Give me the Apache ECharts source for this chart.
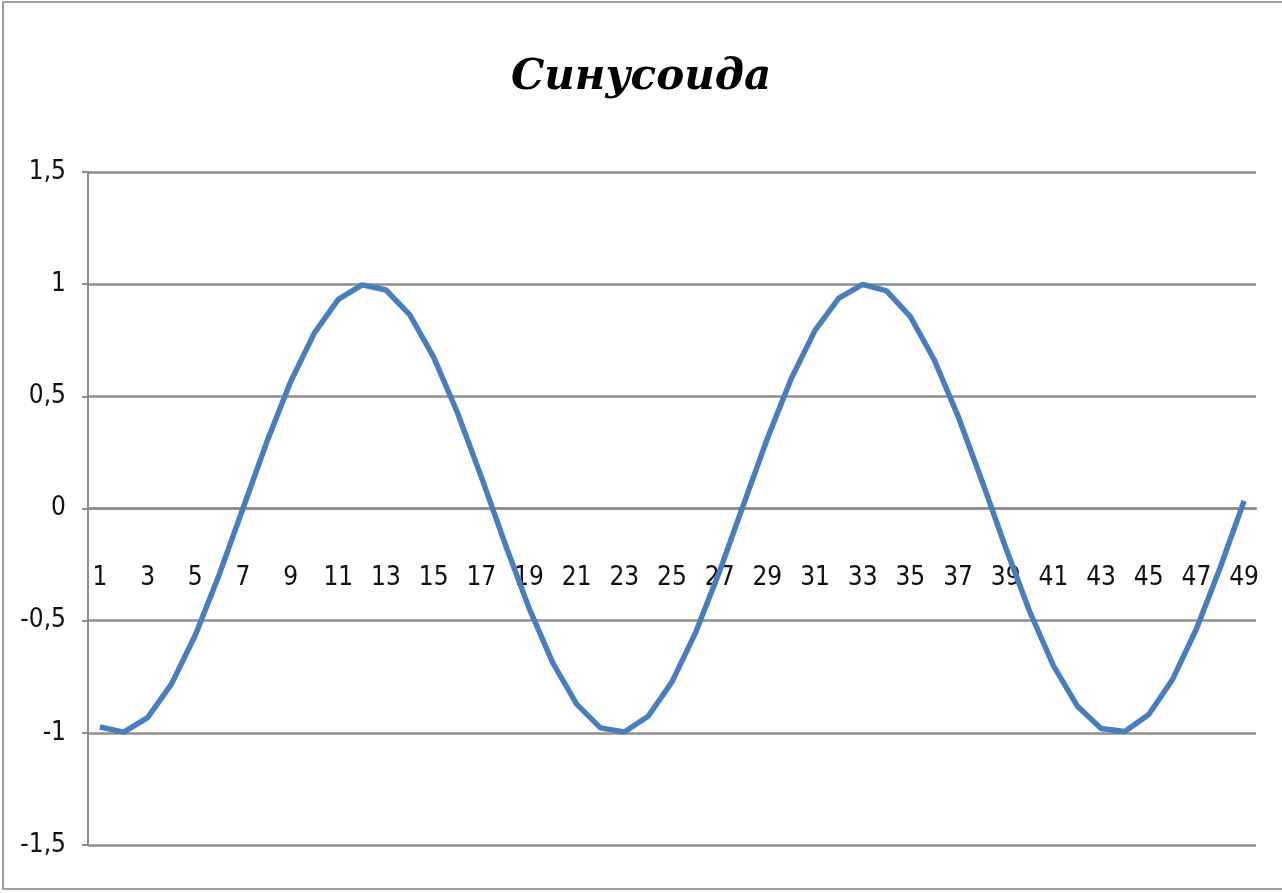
<!DOCTYPE html>
<html>
<head>
<meta charset="utf-8">
<script src="https://cdn.jsdelivr.net/npm/echarts@6/dist/echarts.min.js"></script>
<style>
html,body{margin:0;padding:0;background:#fff;}
#chart{width:1282px;height:893px;}
</style>
</head>
<body>
<div id="chart"></div>
<script>
const titleText = 'Синусоида';
const categories = ['1','2','3','4','5','6','7','8','9','10','11','12','13','14','15','16','17','18','19','20','21','22','23','24','25','26','27','28','29','30','31','32','33','34','35','36','37','38','39','40','41','42','43','44','45','46','47','48','49'];
const values = [-0.974,-0.997,-0.932,-0.783,-0.565,-0.296,0.000,0.296,0.565,0.783,0.932,0.997,0.974,0.863,0.675,0.427,0.141,-0.158,-0.443,-0.688,-0.872,-0.978,-0.996,-0.926,-0.773,-0.551,-0.279,0.017,0.312,0.578,0.794,0.938,0.999,0.970,0.855,0.663,0.412,0.124,-0.175,-0.458,-0.700,-0.880,-0.981,-0.994,-0.918,-0.762,-0.537,-0.263,0.034];
const yMin = -1.5, yMax = 1.5, yStep = 0.5;

const labelFont = "'Liberation Sans Narrow', 'DejaVu Sans Condensed', 'Roboto', sans-serif";
const chart = echarts.init(document.getElementById('chart'));
chart.setOption({
  animation: false,
  backgroundColor: '#ffffff',
  title: {
    text: titleText,
    left: 'center',
    top: 52,
    textStyle: {
      fontFamily: "'DejaVu Serif', 'Liberation Serif', serif",
      fontStyle: 'italic',
      fontWeight: 'bold',
      fontSize: 42,
      color: '#000'
    }
  },
  graphic: [{
    type: 'rect',
    shape: {x: 3, y: 2, width: 1290, height: 887},
    style: {fill: 'none', stroke: '#a0a0a0', lineWidth: 2},
    silent: true
  }],
  grid: {left: 88, right: 26, top: 172, bottom: 48, containLabel: false, outerBoundsMode: 'none'},
  xAxis: {
    type: 'category',
    data: categories,
    boundaryGap: true,
    position: 'bottom',
    offset: -337,
    axisLine: {onZero: false, lineStyle: {color: '#8c8c8c', width: 2.5}},
    axisTick: {show: false},
    axisLabel: {
      interval: 1,
      margin: 57,
      fontSize: 26,
      fontFamily: labelFont,
      color: '#111'
    },
    splitLine: {show: false}
  },
  yAxis: {
    type: 'value',
    min: yMin,
    max: yMax,
    interval: yStep,
    axisLine: {show: true, lineStyle: {color: '#8c8c8c', width: 2}},
    axisTick: {show: true, length: 6, lineStyle: {color: '#8c8c8c', width: 2}},
    axisLabel: {
      margin: 22,
      fontSize: 26,
      fontFamily: labelFont,
      color: '#111',
      formatter: v => String(v).replace('.', ',')
    },
    splitLine: {show: true, lineStyle: {color: '#8f8f8f', width: 2.5}}
  },
  series: [{
    type: 'line',
    data: values,
    showSymbol: false,
    smooth: false,
    z: 3,
    lineStyle: {color: '#4a7ebb', width: 5.5},
    itemStyle: {color: '#4a7ebb'}
  }]
});
</script>
</body>
</html>
